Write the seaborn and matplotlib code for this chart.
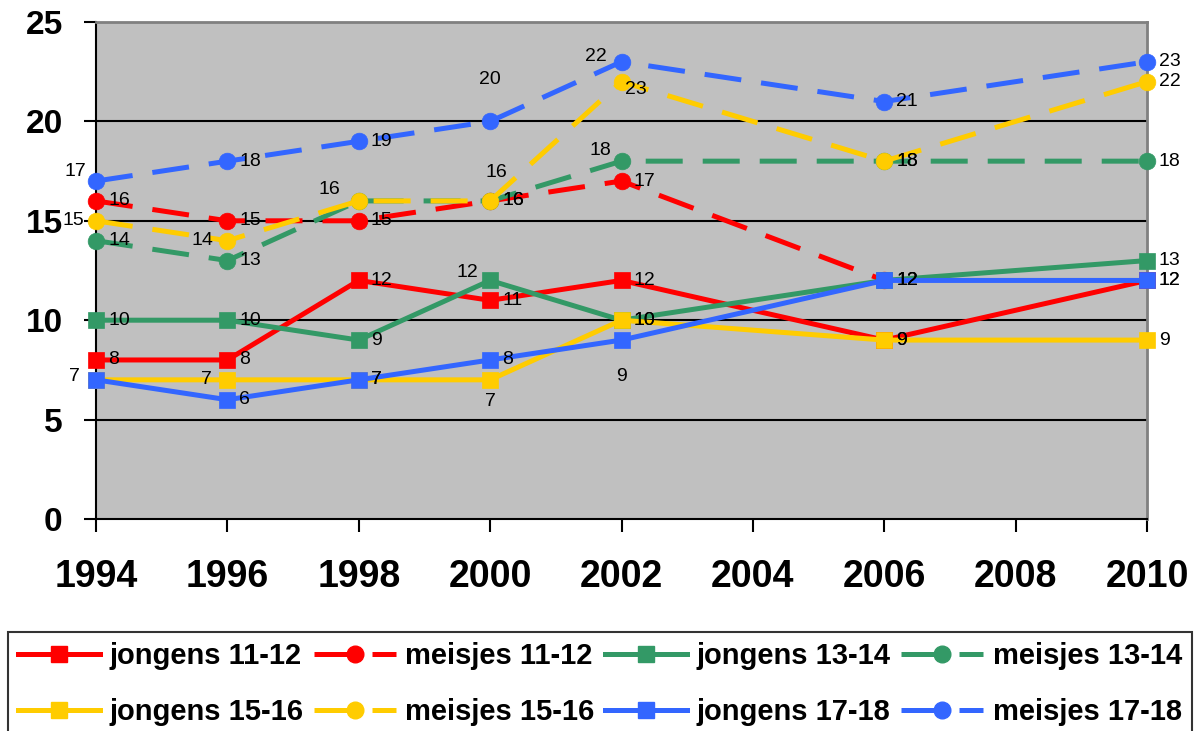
import numpy as np
import pandas as pd
import seaborn as sns
import matplotlib.pyplot as plt
from matplotlib.lines import Line2D

# data
years = [1994, 1996, 1998, 2000, 2002, 2006, 2010]
series_names = ["jongens 11-12", "meisjes 11-12", "jongens 13-14", "meisjes 13-14",
                "jongens 15-16", "meisjes 15-16", "jongens 17-18", "meisjes 17-18"]
jongens_11_12 = [8, 8, 12, 11, 12, 9, 12]
meisjes_11_12 = [16, 15, 15, 16, 17, 12, np.nan]
jongens_13_14 = [10, 10, 9, 12, 10, 12, 13]
meisjes_13_14 = [14, 13, 16, 16, 18, 18, 18]
jongens_15_16 = [7, 7, 7, 7, 10, 9, 9]
meisjes_15_16 = [15, 14, 16, 16, 22, 18, 22]
jongens_17_18 = [7, 6, 7, 8, 9, 12, 12]
meisjes_17_18 = [17, 18, 19, 20, 23, 21, 23]

values = [jongens_11_12, meisjes_11_12, jongens_13_14, meisjes_13_14,
          jongens_15_16, meisjes_15_16, jongens_17_18, meisjes_17_18]

colors = {"11-12": "#FF0000", "13-14": "#339966", "15-16": "#FFCC00", "17-18": "#3366FF"}

rows = []
for name, vals in zip(series_names, values):
    sex, age = name.split(" ")
    for yr, v in zip(years, vals):
        rows.append({"jaar": yr, "waarde": v, "geslacht": sex, "leeftijd": age, "reeks": name})
df = pd.DataFrame(rows).dropna()

# label placement per point: (dx px, dy px, ha) or None
R = (12, 0, "left")
label_pos = {
    "jongens 11-12": [R] * 7,
    "meisjes 11-12": [R] * 6 + [None],
    "jongens 13-14": [R, R, R, (-12, 8, "right"), R, R, R],
    "meisjes 13-14": [R, R, None, R, (-10, 11, "right"), R, R],
    "jongens 15-16": [(-16, 3, "right"), (-16, 0, "right"), R, (0, -22, "center"), R, R, R],
    "meisjes 15-16": [(-12, 0, "right"), (-14, 0, "right"), (-18, 11, "right"), (6, 28, "center"),
                      (-15, 25, "right"), R, R],
    "jongens 17-18": [None, R, R, R, (0, -36, "center"), R, R],
    "meisjes 17-18": [(-10, 10, "right"), R, R, (0, 42, "center"), (3, -28, "left"), R, R],
}

plt.rcParams["font.family"] = ["Liberation Sans", "DejaVu Sans"]

fig = plt.figure(figsize=(11.99, 7.31), dpi=100)
ax = fig.add_axes([96 / 1199, 1 - 519 / 731, (1147 - 96) / 1199, (519 - 22) / 731])
ax.set_facecolor("#C0C0C0")

sns.lineplot(data=df, x="jaar", y="waarde", hue="leeftijd", style="geslacht",
             palette=colors, markers={"jongens": "s", "meisjes": "o"},
             dashes={"jongens": "", "meisjes": (7.4, 4)},
             linewidth=3.6, markersize=12, legend=False, ax=ax, zorder=3)

lines = ax.lines[:8]
for ln in lines:
    ln.set_markeredgecolor(ln.get_color())
    ln.set_markeredgewidth(0.5)
    ln.set_clip_on(False)

for name, vals in zip(series_names, values):
    for yr, v, pos in zip(years, vals, label_pos[name]):
        if pos is None or np.isnan(v):
            continue
        dx, dy, ha = pos
        ax.annotate(f"{int(v)}", (yr, v), xytext=(dx, dy), textcoords="offset pixels",
                    ha=ha, va="center", fontsize=14, color="black", zorder=5)

ax.set_xlim(1994, 2010)
ax.set_ylim(0, 25)
ax.set_xticks(range(1994, 2011, 2))
ax.set_yticks([0, 5, 10, 15, 20, 25])
for y in [5, 10, 15, 20]:
    ax.axhline(y, color="black", linewidth=1.5, zorder=1)
ax.tick_params(axis="both", direction="out", length=9, width=1.5)
ax.tick_params(axis="y", labelsize=24, pad=15)
ax.tick_params(axis="x", labelsize=27, pad=20)
for lab in ax.get_xticklabels() + ax.get_yticklabels():
    lab.set_fontweight("bold")
ax.set_xlabel("")
ax.set_ylabel("")

for side in ["top", "right"]:
    ax.spines[side].set_color("#808080")
    ax.spines[side].set_linewidth(2)
for side in ["left", "bottom"]:
    ax.spines[side].set_color("black")
    ax.spines[side].set_linewidth(1.5)

# legend handles mimic the short legend dashes of the original
handles = []
for ln, name in zip(lines, series_names):
    dashed = name.startswith("meisjes")
    handles.append(Line2D([], [], color=ln.get_color(), linewidth=3.6,
                          linestyle=(0, (9.8, 1.8)) if dashed else "-",
                          marker=ln.get_marker(), markersize=12,
                          markeredgecolor=ln.get_color()))
order = [0, 4, 1, 5, 2, 6, 3, 7]
leg = fig.legend([handles[i] for i in order], [series_names[i] for i in order],
                 loc="upper left", bbox_to_anchor=(8 / 1199, 1 - 632 / 731, 1184 / 1199, 0.0),
                 mode="expand", ncol=4, frameon=True, fancybox=False, edgecolor="black",
                 borderaxespad=0, handlelength=2.8, handletextpad=0.33, borderpad=0.35,
                 labelspacing=0.95, columnspacing=0.4,
                 prop={"size": 21, "weight": "bold"})
leg.get_frame().set_linewidth(1.5)

fig.savefig("out.png", dpi=100)
